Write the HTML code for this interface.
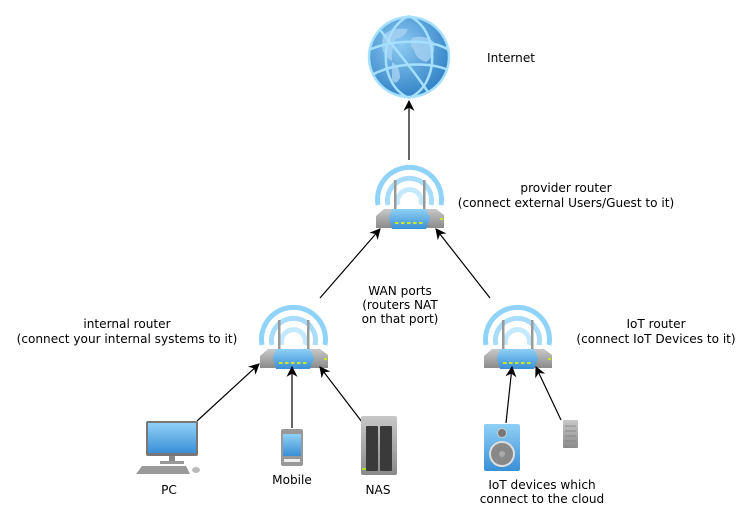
<!DOCTYPE html>
<html><head><meta charset="utf-8"><style>
html,body{margin:0;padding:0;background:#fff;}
svg{display:block;}
text{font-family:"DejaVu Sans","Liberation Sans",sans-serif;font-size:12.1px;fill:#000;}
</style></head><body>
<svg width="753" height="523" viewBox="0 0 753 523" xmlns="http://www.w3.org/2000/svg">
<defs>
<marker id="ah" viewBox="0 0 10 10" refX="9" refY="5" markerWidth="11" markerHeight="11" orient="auto" markerUnits="userSpaceOnUse">
<path d="M0,0 L10,5 L0,10 L3,5 z" fill="#000"/></marker>
<radialGradient id="gl" cx="0.4" cy="0.35" r="0.7"><stop offset="0" stop-color="#8ccaf2"/><stop offset="1" stop-color="#2f7fc4"/></radialGradient>
<linearGradient id="bl" x1="0" y1="0" x2="0" y2="1"><stop offset="0" stop-color="#8fd0f6"/><stop offset="1" stop-color="#3a8fd6"/></linearGradient>
<linearGradient id="gr" x1="0" y1="0" x2="0" y2="1"><stop offset="0" stop-color="#c8c8c8"/><stop offset="1" stop-color="#8a8a8a"/></linearGradient>
<g id="router">
 <path d="M378,205 A32,32 0 1 1 441,205" fill="none" stroke="#8fd3fb" stroke-width="5"/>
 <path d="M388,205 A22,22 0 1 1 431,205" fill="none" stroke="#a7dcfb" stroke-width="5"/>
 <path d="M398,205 A12,12 0 1 1 421,205" fill="none" stroke="#c4e8fc" stroke-width="5"/>
 <rect x="394" y="180" width="2.5" height="32" fill="#999"/>
 <rect x="423" y="180" width="2.5" height="32" fill="#999"/>
 <path d="M376,216 L384,209 L436,209 L444,215 L444,228 L376,228 Z" fill="url(#gr)"/>
 <path d="M392,209 L426,209 L430,218 L426,229 L392,229 L389,218 Z" fill="url(#bl)"/>
 <g fill="#c6e82a"><rect x="395" y="222" width="3.5" height="2"/><rect x="401" y="222" width="3.5" height="2"/><rect x="407" y="222" width="3.5" height="2"/><rect x="413" y="222" width="3.5" height="2"/><rect x="419" y="222" width="3.5" height="2"/><rect x="440" y="218" width="3" height="2"/></g>
</g>
</defs>
<g>
<circle cx="409" cy="57" r="40" fill="url(#gl)"/>
<path d="M383,35 q10,-8 25,-6 q-3,8 -12,10 q-5,10 -4,22 q-8,-4 -10,-14z M412,38 q12,-4 22,4 q2,14 -8,20 q-10,-3 -12,-12 q-6,-6 -2,-12z M392,62 q8,4 8,16 q-4,8 -8,2z" fill="#a8d2f2" opacity="0.8"/>
<g fill="none" stroke="#a6e0ff" stroke-width="2.5">
<ellipse cx="409" cy="57" rx="40" ry="40"/>
<path d="M409,16 C440,30 440,85 409,98"/>
<path d="M409,16 C378,30 378,85 409,98"/>
<path d="M369,50 C390,40 430,38 449,50"/>
<path d="M372,75 C395,62 430,62 448,70"/>
<path d="M380,30 C405,60 420,80 428,92"/>
</g></g>
<text x="487" y="62">Internet</text>
<use href="#router"/>
<use href="#router" transform="translate(-116,140)"/>
<use href="#router" transform="translate(108,140)"/>
<g stroke="#000" stroke-width="1.2" fill="none" marker-end="url(#ah)">
<line x1="409" y1="160" x2="409" y2="101"/>
<line x1="320" y1="298" x2="380" y2="229"/>
<line x1="490" y1="298" x2="436" y2="229"/>
<line x1="197" y1="421" x2="259" y2="364"/>
<line x1="292" y1="428" x2="292" y2="367"/>
<line x1="362" y1="422" x2="320" y2="367"/>
<line x1="506" y1="423" x2="512" y2="367"/>
<line x1="561" y1="420" x2="536" y2="367"/>
</g>
<text x="566" y="192" text-anchor="middle">provider router</text>
<text x="566" y="207" text-anchor="middle">(connect external Users/Guest to it)</text>
<text x="400" y="295" text-anchor="middle">WAN ports</text>
<text x="400" y="309" text-anchor="middle">(routers NAT</text>
<text x="400" y="323" text-anchor="middle">on that port)</text>
<text x="127" y="328" text-anchor="middle">internal router</text>
<text x="127" y="343" text-anchor="middle">(connect your internal systems to it)</text>
<text x="656" y="328" text-anchor="middle">IoT router</text>
<text x="656" y="343" text-anchor="middle">(connect IoT Devices to it)</text>
<rect x="146" y="421" width="52" height="35" rx="2" fill="#777"/>
<rect x="148" y="423" width="48" height="30" fill="url(#bl)"/>
<rect x="169" y="456" width="6" height="6" fill="#888"/>
<rect x="160" y="461" width="24" height="3" fill="#999"/>
<path d="M136,474 L142,466 L186,466 L190,474 Z" fill="#999"/>
<ellipse cx="196" cy="470" rx="4" ry="3" fill="#bbb"/>
<text x="169" y="494" text-anchor="middle">PC</text>
<rect x="281" y="429" width="22" height="37" rx="2" fill="#999"/>
<rect x="283" y="434" width="18" height="22" fill="url(#bl)"/>
<rect x="284" y="459" width="16" height="3" fill="#eee"/>
<text x="292" y="484" text-anchor="middle">Mobile</text>
<rect x="361" y="416" width="36" height="59" rx="2" fill="url(#gr)"/>
<rect x="366" y="426" width="12" height="45" rx="1" fill="#3a3a3a"/>
<rect x="380" y="426" width="12" height="45" rx="1" fill="#3a3a3a"/>
<rect x="362" y="468" width="4" height="2" fill="#b0e020"/>
<text x="378" y="494" text-anchor="middle">NAS</text>
<rect x="484" y="424" width="36" height="47" rx="2" fill="url(#bl)"/>
<circle cx="502" cy="433" r="4.5" fill="#777" stroke="#ccc"/>
<circle cx="502" cy="454" r="12" fill="#888" stroke="#ddd" stroke-width="2"/>
<circle cx="502" cy="454" r="3" fill="#aaa"/>
<rect x="563" y="420" width="15" height="28" rx="1" fill="url(#gr)"/>
<g stroke="#777" stroke-width="0.7"><line x1="565" y1="426" x2="576" y2="426"/><line x1="565" y1="431" x2="576" y2="431"/><line x1="565" y1="436" x2="576" y2="436"/><line x1="565" y1="441" x2="576" y2="441"/></g>
<text x="542" y="489" text-anchor="middle">IoT devices which</text>
<text x="542" y="503" text-anchor="middle">connect to the cloud</text>
</svg>
</body></html>
